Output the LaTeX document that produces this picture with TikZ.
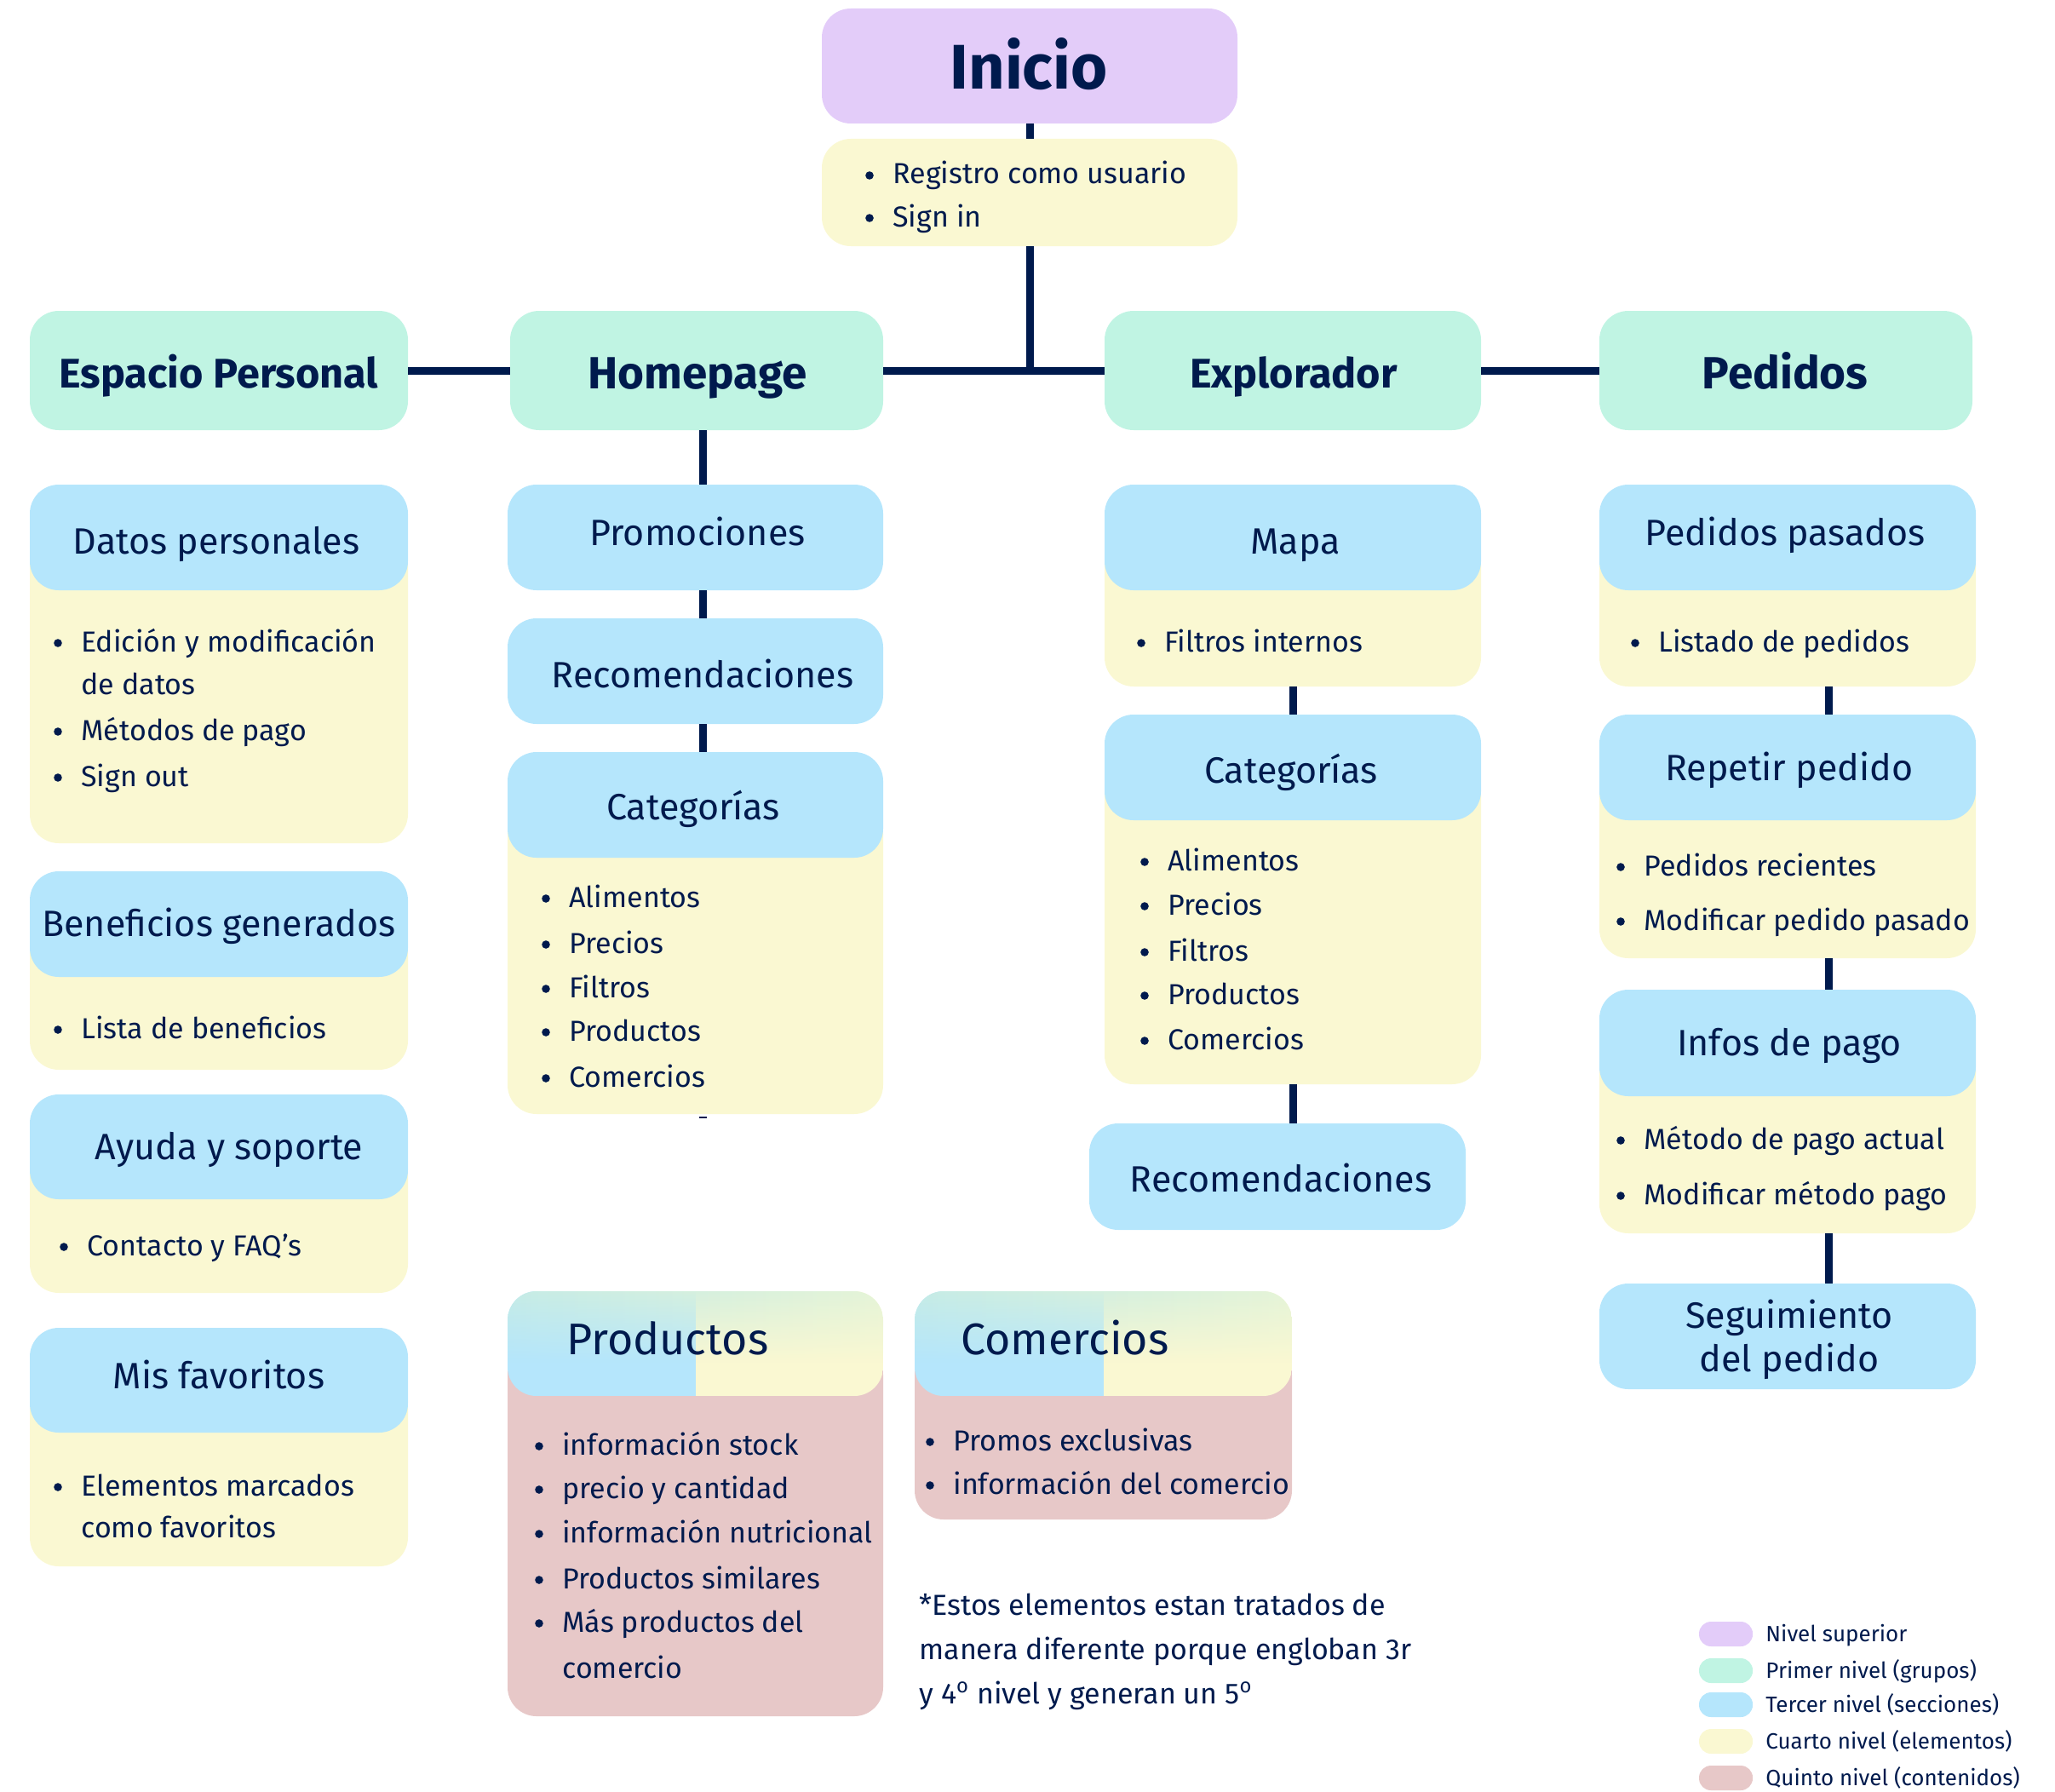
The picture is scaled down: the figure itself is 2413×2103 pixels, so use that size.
\documentclass[tikz,border=0pt]{standalone}
\usepackage{fontspec}
\setmainfont{Fira Sans}
\usetikzlibrary{fadings}
\definecolor{cPurple}{HTML}{E3CCF9}
\definecolor{cGreen}{HTML}{C0F4E3}
\definecolor{cBlue}{HTML}{B5E6FC}
\definecolor{cYellow}{HTML}{FAF8D2}
\definecolor{cPink}{HTML}{E7C8C8}
\definecolor{cNavy}{HTML}{001A4D}
\definecolor{cTopL}{HTML}{C6ECE6}
\definecolor{cTopR}{HTML}{E5F4D8}
\tikzfading[name=fadedown, top color=transparent!0, bottom color=transparent!100]
\newcounter{tn}
\newcommand{\rbox}[6]{\node[#2, minimum width={(#5-#3)*0.5pt}, minimum height={(#6-#4)*0.5pt}] (#1) at ({(#3+#5)/2},{(#4+#6)/2}) {};}
\newcommand{\tx}[4]{\stepcounter{tn}\node[#1] (t\arabic{tn}) at (#2,#3) {#4};}
\newcommand{\li}[3]{\stepcounter{tn}\node[bul] (b\arabic{tn}) at ({#1-27},{#2-10}) {};\tx{body}{#1}{#2}{#3}}
\begin{document}
\begin{tikzpicture}[x=0.5pt,y=-0.5pt,
  box/.style={rounded corners=17pt, inner sep=0pt, outer sep=0pt, draw=none},
  purplebox/.style={box, fill=cPurple},
  greenbox/.style={box, fill=cGreen},
  bluebox/.style={box, fill=cBlue},
  yellowbox/.style={box, fill=cYellow},
  pinkbox/.style={box, fill=cPink},
  pill/.style={rounded corners=7pt, inner sep=0pt, outer sep=0pt, draw=none},
  conn/.style={draw=cNavy, line width=4.5pt},
  body/.style={anchor=base west, inner sep=0pt, text=cNavy, font=\fontsize{17}{20}\selectfont},
  bul/.style={circle, fill=cNavy, inner sep=0pt, minimum size=4.8pt},
  head/.style={anchor=base, inner sep=0pt, text=cNavy, font=\fontsize{21.5}{25}\selectfont},
  lvl/.style={anchor=base, inner sep=0pt, text=cNavy, font=\bfseries\fontsize{24.3}{28}\selectfont},
  lvlb/.style={anchor=base, inner sep=0pt, text=cNavy, font=\bfseries\fontsize{26.5}{30}\selectfont},
  bighead/.style={anchor=base west, inner sep=0pt, text=cNavy, font=\fontsize{26}{30}\selectfont},
  legend/.style={anchor=base west, inner sep=0pt, text=cNavy, font=\fontsize{13}{15}\selectfont}]
\useasboundingbox (0,0) rectangle (2413,2103);

% top
\rbox{inicio}{purplebox}{965}{10}{1453}{145}
\rbox{reg}{yellowbox}{965}{163}{1453}{289}
\tx{anchor=base, inner sep=0pt, text=cNavy, font=\bfseries\fontsize{37}{40}\selectfont}{1208}{105}{Inicio}
\li{1048}{216}{Registro como usuario}
\li{1048}{266}{Sign in}

% level 1
\rbox{ep}{greenbox}{35}{365}{479}{505}
\rbox{hp}{greenbox}{599}{365}{1037}{505}
\rbox{ex}{greenbox}{1297}{365}{1739}{505}
\rbox{pe}{greenbox}{1878}{365}{2316}{505}
\tx{lvl}{257}{455}{Espacio Personal}
\tx{lvlb}{819}{456}{Homepage}
\tx{lvl}{1519}{455}{Explorador}
\tx{lvlb}{2096}{456}{Pedidos}

\coordinate (junc) at (1209,435);
\draw[conn] (inicio.south -| junc) -- (reg.north -| junc);
\draw[conn] (reg.south -| junc) -- ([yshift=-2.25pt]junc);
\draw[conn] (ep.east) -- (hp.west);
\draw[conn] (hp.east) -- (ex.west);
\draw[conn] (ex.east) -- (pe.west);

% column 1
\rbox{dpy}{yellowbox}{35}{630}{479}{990}
\rbox{dp}{bluebox}{35}{569}{479}{693}
\tx{head}{254}{650}{Datos personales}
\li{95}{765}{Edición y modificación}
\tx{body}{95}{815}{de datos}
\li{95}{869}{Métodos de pago}
\li{95}{923}{Sign out}

\rbox{bgy}{yellowbox}{35}{1085}{479}{1256}
\rbox{bg}{bluebox}{35}{1023}{479}{1147}
\tx{head}{257}{1099}{Beneficios generados}
\li{95}{1219}{Lista de beneficios}

\rbox{ays}{yellowbox}{35}{1346}{479}{1518}
\rbox{ay}{bluebox}{35}{1285}{479}{1408}
\tx{head}{269}{1361}{Ayuda y soporte}
\li{102}{1474}{Contacto y FAQ’s}

\rbox{mfy}{yellowbox}{35}{1620}{479}{1839}
\rbox{mf}{bluebox}{35}{1559}{479}{1682}
\tx{head}{257}{1630}{Mis favoritos}
\li{95}{1756}{Elementos marcados}
\tx{body}{95}{1805}{como favoritos}

% column 2
\coordinate (c2x) at (825,0);
\rbox{prom}{bluebox}{596}{569}{1037}{693}
\rbox{rec}{bluebox}{596}{726}{1037}{850}
\rbox{caty}{yellowbox}{596}{945}{1037}{1308}
\rbox{cat}{bluebox}{596}{883}{1037}{1007}
\coordinate (stub) at (825,1312);
\draw[conn] (hp.south -| c2x) -- (prom.north -| c2x);
\draw[conn] (prom.south -| c2x) -- (rec.north -| c2x);
\draw[conn] (rec.south -| c2x) -- (cat.north -| c2x);
\draw[draw=cNavy, line width=1.2pt] ([xshift=-2.25pt]stub) -- ([xshift=2.25pt]stub);
\tx{head}{819}{640}{Promociones}
\tx{head}{825}{807}{Recomendaciones}
\tx{head}{814}{962}{Categorías}
\li{668}{1065}{Alimentos}
\li{668}{1119}{Precios}
\li{668}{1171}{Filtros}
\li{668}{1222}{Productos}
\li{668}{1276}{Comercios}

% column 3
\coordinate (c3x) at (1518,0);
\rbox{mapy}{yellowbox}{1297}{630}{1739}{806}
\rbox{map}{bluebox}{1297}{569}{1739}{693}
\rbox{cat3y}{yellowbox}{1297}{900}{1739}{1273}
\rbox{cat3}{bluebox}{1297}{839}{1739}{963}
\rbox{rec3}{bluebox}{1279}{1319}{1721}{1444}
\draw[conn] (mapy.south -| c3x) -- (cat3.north -| c3x);
\draw[conn] (cat3y.south -| c3x) -- (rec3.north -| c3x);
\tx{head}{1521}{650}{Mapa}
\li{1367}{765}{Filtros internos}
\tx{head}{1516}{919}{Categorías}
\li{1371}{1022}{Alimentos}
\li{1371}{1074}{Precios}
\li{1371}{1128}{Filtros}
\li{1371}{1179}{Productos}
\li{1371}{1232}{Comercios}
\tx{head}{1504}{1399}{Recomendaciones}

% column 4
\coordinate (c4x) at (2147,0);
\rbox{ppy}{yellowbox}{1878}{630}{2320}{806}
\rbox{pp}{bluebox}{1878}{569}{2320}{693}
\rbox{rpy}{yellowbox}{1878}{900}{2320}{1125}
\rbox{rp}{bluebox}{1878}{839}{2320}{963}
\rbox{ipy}{yellowbox}{1878}{1224}{2320}{1448}
\rbox{ip}{bluebox}{1878}{1162}{2320}{1287}
\rbox{sg}{bluebox}{1878}{1507}{2320}{1631}
\draw[conn] (ppy.south -| c4x) -- (rp.north -| c4x);
\draw[conn] (rpy.south -| c4x) -- (ip.north -| c4x);
\draw[conn] (ipy.south -| c4x) -- (sg.north -| c4x);
\tx{head}{2096}{640}{Pedidos pasados}
\li{1947}{765}{Listado de pedidos}
\tx{head}{2101}{916}{Repetir pedido}
\li{1930}{1028}{Pedidos recientes}
\li{1930}{1092}{Modificar pedido pasado}
\tx{head}{2101}{1239}{Infos de pago}
\li{1930}{1349}{Método de pago actual}
\li{1930}{1414}{Modificar método pago}
\tx{head}{2101}{1559}{Seguimiento}
\tx{head}{2101}{1610}{del pedido}

% Productos / Comercios
\rbox{prody}{pinkbox}{596}{1580}{1037}{2015}
\rbox{prod}{box}{596}{1516}{1037}{1639}
\begin{scope}
  \clip[rounded corners=17pt] (prod.north west) rectangle (prod.south east);
  \fill[cBlue] (prod.north west) rectangle (prod.south);
  \fill[cYellow] (prod.north) rectangle (prod.south east);
  \shade[left color=cTopL, right color=cTopR, path fading=fadedown] (prod.north west) rectangle ([yshift=20pt]prod.south east);
\end{scope}
\rbox{comy}{pinkbox}{1074}{1580}{1517}{1784}
\rbox{com}{box}{1074}{1516}{1517}{1639}
\begin{scope}
  \clip[rounded corners=17pt] (com.north west) rectangle (com.south east);
  \fill[cBlue] (com.north west) rectangle (com.south);
  \fill[cYellow] (com.north) rectangle (com.south east);
  \shade[left color=cTopL, right color=cTopR, path fading=fadedown] (com.north west) rectangle ([yshift=20pt]com.south east);
\end{scope}
\tx{bighead}{665}{1590}{Productos}
\tx{bighead}{1128}{1590}{Comercios}
\li{660}{1708}{información stock}
\li{660}{1759}{precio y cantidad}
\li{660}{1811}{información nutricional}
\li{660}{1865}{Productos similares}
\li{660}{1916}{Más productos del}
\tx{body}{660}{1970}{comercio}
\li{1119}{1703}{Promos exclusivas}
\li{1119}{1754}{información del comercio}

% footnote
\tx{body}{1079}{1896}{*Estos elementos estan tratados de}
\tx{body}{1079}{1948}{manera diferente porque engloban 3r}
\tx{body}{1079}{2000}{y 4\textsuperscript{o} nivel y generan un 5\textsuperscript{o}}

% legend
\rbox{lg1}{pill, fill=cPurple}{1995}{1904}{2058}{1933}
\rbox{lg2}{pill, fill=cGreen}{1995}{1947}{2058}{1976}
\rbox{lg3}{pill, fill=cBlue}{1995}{1987}{2058}{2016}
\rbox{lg4}{pill, fill=cYellow}{1995}{2030}{2058}{2059}
\rbox{lg5}{pill, fill=cPink}{1995}{2073}{2058}{2102}
\tx{legend}{2073}{1927}{Nivel superior}
\tx{legend}{2073}{1970}{Primer nivel (grupos)}
\tx{legend}{2073}{2010}{Tercer nivel (secciones)}
\tx{legend}{2073}{2053}{Cuarto nivel (elementos)}
\tx{legend}{2073}{2096}{Quinto nivel (contenidos)}
\end{tikzpicture}
\end{document}
